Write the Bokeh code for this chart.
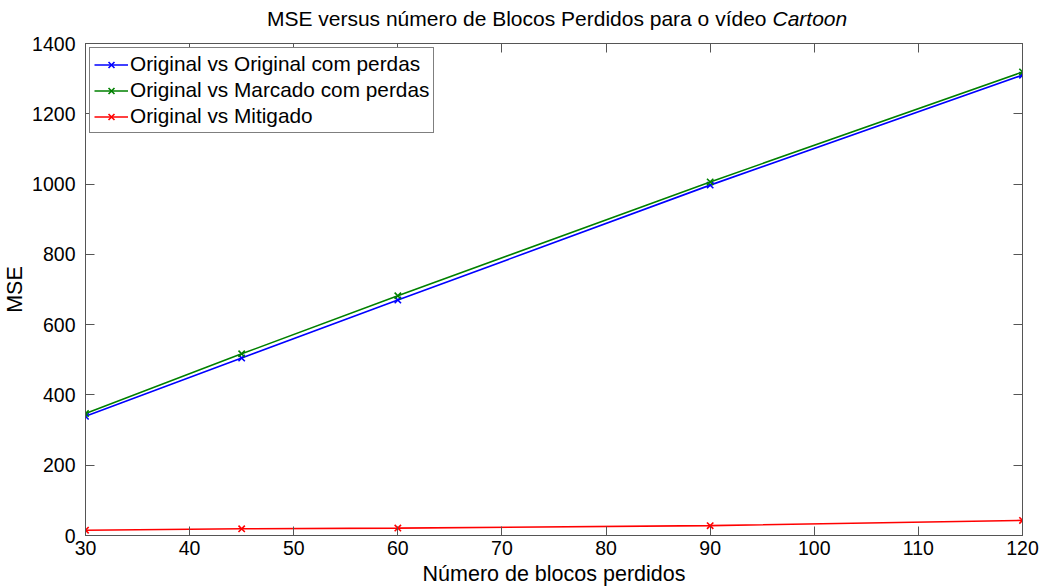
from bokeh.plotting import figure
from bokeh.layouts import column
from bokeh.models import Range1d, LinearAxis, FixedTicker, Label, Legend, LegendItem
from bokeh.embed import file_html
from bokeh.resources import INLINE

# Lost blocks vs MSE for the "Cartoon" sequence
blocks = [30, 45, 60, 90, 120]
mse_original_perdas = [339, 505, 670, 997, 1310]
mse_marcado_perdas = [347, 517, 682, 1006, 1319]
mse_mitigado = [15, 19, 21, 28, 43]

series_names = [
    "Original vs Original com perdas",
    "Original vs Marcado com perdas",
    "Original vs Mitigado",
]
series_colors = ["#0000ff", "#008000", "#ff0000"]

x_ticks = [30, 40, 50, 60, 70, 80, 90, 100, 110, 120]
y_ticks = [0, 200, 400, 600, 800, 1000, 1200, 1400]

title_text = "MSE versus número de Blocos Perdidos para o vídeo"
title_name = "Cartoon"

FONT = "Liberation Sans"
AXIS_COLOR = "#555555"
TITLE_H = 34

# Title strip: plain part followed by the video name in italics
# (its frame is aligned with the chart frame by the column layout)
head = figure(
    width=1043, height=TITLE_H, x_range=Range1d(0, 1), y_range=Range1d(0, 1),
    output_backend="svg", toolbar_location=None,
    x_axis_type=None, y_axis_type=None,
    min_border=0, min_border_left=0, min_border_right=0,
    min_border_top=0, min_border_bottom=0,
)
head.outline_line_color = None
head.xgrid.visible = False
head.ygrid.visible = False
head.background_fill_color = "white"
head.border_fill_color = "white"
head.add_layout(Label(
    x=681, y=16, x_units="screen", y_units="screen", text=title_text,
    text_align="right", text_baseline="middle", text_font=FONT,
    text_font_size="21px", text_color="black",
))
head.add_layout(Label(
    x=687, y=16, x_units="screen", y_units="screen", text=title_name,
    text_align="left", text_baseline="middle", text_font=FONT,
    text_font_style="italic", text_font_size="21px", text_color="black",
))

p = figure(
    width=1043, height=588 - TITLE_H,
    x_range=Range1d(30, 120), y_range=Range1d(0, 1400),
    output_backend="svg", toolbar_location=None,
    min_border_left=85, min_border_right=21,
    min_border_top=43 - TITLE_H, min_border_bottom=52,
    x_axis_label="Número de blocos perdidos", y_axis_label="MSE",
)
p.background_fill_color = "white"
p.border_fill_color = "white"
p.outline_line_color = AXIS_COLOR
p.outline_line_width = 1
p.xgrid.visible = False
p.ygrid.visible = False

def style_axis(ax, show_labels=True):
    ax.axis_line_color = AXIS_COLOR
    ax.major_tick_line_color = AXIS_COLOR
    ax.major_tick_in = 9
    ax.major_tick_out = 0
    ax.minor_tick_line_color = None
    ax.major_label_text_font = FONT
    ax.major_label_text_color = "black"
    ax.axis_label_text_font = FONT
    ax.axis_label_text_font_style = "normal"
    ax.axis_label_text_color = "black"
    ax.axis_label_text_font_size = "21.5px"
    ax.major_label_text_font_size = "19.5px"
    if not show_labels:
        ax.major_label_text_color = None
        ax.major_label_text_font_size = "1px"
        ax.major_label_standoff = 0

xa = p.xaxis[0]
ya = p.yaxis[0]
xa.ticker = FixedTicker(ticks=x_ticks)
ya.ticker = FixedTicker(ticks=y_ticks)
style_axis(xa)
style_axis(ya)
xa.major_label_standoff = 5
xa.axis_label_standoff = 4
ya.major_label_standoff = 10
ya.axis_label_standoff = 2

top = LinearAxis(ticker=FixedTicker(ticks=x_ticks))
right = LinearAxis(ticker=FixedTicker(ticks=y_ticks))
style_axis(top, show_labels=False)
style_axis(right, show_labels=False)
p.add_layout(top, "above")
p.add_layout(right, "right")

items = []
for ys, name, color in zip(
    [mse_original_perdas, mse_marcado_perdas, mse_mitigado], series_names, series_colors
):
    ln = p.line(blocks, ys, line_color=color, line_width=1.6)
    mk = p.scatter(blocks, ys, marker="x", size=9, line_color=color, line_width=1.6)
    items.append(LegendItem(label=name, renderers=[ln, mk]))

legend = Legend(items=items, location="top_left")
legend.label_text_font = FONT
legend.label_text_font_size = "20.8px"
legend.label_text_color = "black"
legend.border_line_color = "black"
legend.border_line_width = 1
legend.background_fill_color = "white"
legend.background_fill_alpha = 1
legend.margin = 4
legend.padding = 4
legend.spacing = 2
legend.glyph_width = 34
legend.glyph_height = 21
legend.label_height = 21
legend.label_standoff = 2
p.add_layout(legend, "center")

page = column(head, p, spacing=0)
open("out.html", "w").write(file_html(page, INLINE))
